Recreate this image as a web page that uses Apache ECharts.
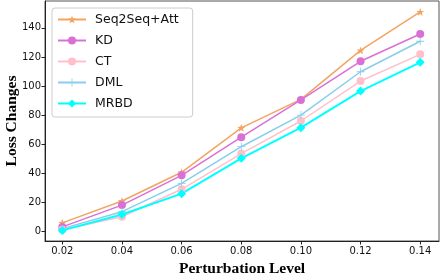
<!DOCTYPE html>
<html><head><meta charset="utf-8">
<script src="https://cdn.jsdelivr.net/npm/echarts@6/dist/echarts.min.js"></script>
<style>html,body{margin:0;padding:0;background:#fff}#c{width:440px;height:275px}</style>
</head><body><div id="c"></div>
<script>
var levels = [0.02, 0.04, 0.06, 0.08, 0.10, 0.12, 0.14];
var seq2seq = [5.8, 20.8, 40.6, 71.2, 90.8, 124.5, 151.0];
var kd      = [3.0, 18.0, 38.5, 64.8, 90.4, 117.0, 135.8];
var ct      = [1.0, 10.0, 28.9, 53.5, 75.9, 103.4, 121.8];
var dml     = [1.8, 13.5, 33.0, 58.2, 80.0, 109.8, 130.8];
var mrbd    = [0.6, 11.5, 25.9, 50.2, 71.3, 96.5, 116.3];
var xTicks = [0.02, 0.04, 0.06, 0.08, 0.10, 0.12, 0.14];
var yTicks = [0, 20, 40, 60, 80, 100, 120, 140];

var STAR = 'path://M0,-10 L2.35,-3.24 L9.51,-3.09 L3.8,1.24 L5.88,8.09 L0,4 L-5.88,8.09 L-3.8,1.24 L-9.51,-3.09 L-2.35,-3.24 Z';
var PLUS = 'path://M-1,-10 L1,-10 L1,-1 L10,-1 L10,1 L1,1 L1,10 L-1,10 L-1,1 L-10,1 L-10,-1 L-1,-1 Z';

function mk(name, vals, color, symbol, size, width) {
  return {
    name: name, type: 'line',
    data: levels.map(function (x, i) { return [x, vals[i]]; }),
    symbol: symbol, symbolSize: size,
    lineStyle: { color: color, width: width },
    itemStyle: { color: color },
    animation: false
  };
}

var chart = echarts.init(document.getElementById('c'), null, { renderer: 'canvas' });
chart.setOption({
  animation: false,
  grid: { left: 45, right: 1, top: 1, bottom: 34, show: true, borderColor: '#555', borderWidth: 1,
    containLabel: false, outerBoundsMode: 'none' },
  xAxis: {
    type: 'value', min: 0.0142, max: 0.1463,
    name: 'Perturbation Level', nameLocation: 'middle', nameGap: 20, nameMoveOverlap: false,
    nameTextStyle: { fontFamily: 'Liberation Serif', fontWeight: 'bold', fontSize: 15.5, color: '#000' },
    axisLine: { show: true, onZero: false, lineStyle: { color: '#222', width: 1 } },
    axisTick: { show: true, inside: false, length: 3.5, customValues: xTicks, lineStyle: { color: '#222' } },
    axisLabel: { customValues: xTicks, fontFamily: 'DejaVu Sans', fontSize: 10, color: '#111', margin: 5,
      formatter: function (v) { return v.toFixed(2); } },
    splitLine: { show: false }
  },
  yAxis: {
    type: 'value', min: -6.7, max: 158.5,
    name: 'Loss Changes', nameLocation: 'middle', nameGap: 25, nameMoveOverlap: false,
    nameTextStyle: { fontFamily: 'Liberation Serif', fontWeight: 'bold', fontSize: 15.5, color: '#000' },
    axisLine: { show: true, onZero: false, lineStyle: { color: '#222', width: 1 } },
    axisTick: { show: true, inside: false, length: 3.5, customValues: yTicks, lineStyle: { color: '#222' } },
    axisLabel: { customValues: yTicks, fontFamily: 'DejaVu Sans', fontSize: 10, color: '#111', margin: 4 },
    splitLine: { show: false }
  },
  legend: {
    orient: 'vertical', left: 52, top: 8,
    itemWidth: 28, itemHeight: 10, itemGap: 8,
    padding: [5, 14, 7, 5],
    backgroundColor: '#fff', borderColor: '#ccc', borderWidth: 1, borderRadius: 3,
    textStyle: { fontFamily: 'DejaVu Sans', fontSize: 12.5, color: '#111', padding: [0, 0, 0, 4] },
    data: ['Seq2Seq+Att', 'KD', 'CT', 'DML', 'MRBD']
  },
  series: [
    mk('Seq2Seq+Att', seq2seq, '#F4A460', STAR, 8, 1.5),
    mk('KD', kd, '#DA70D6', 'circle', 8, 1.5),
    mk('CT', ct, '#FFC0CB', 'circle', 8, 1.5),
    mk('DML', dml, '#87CEEB', PLUS, 8, 1.5),
    mk('MRBD', mrbd, '#00FFFF', 'diamond', 9, 2)
  ]
});
</script></body></html>
